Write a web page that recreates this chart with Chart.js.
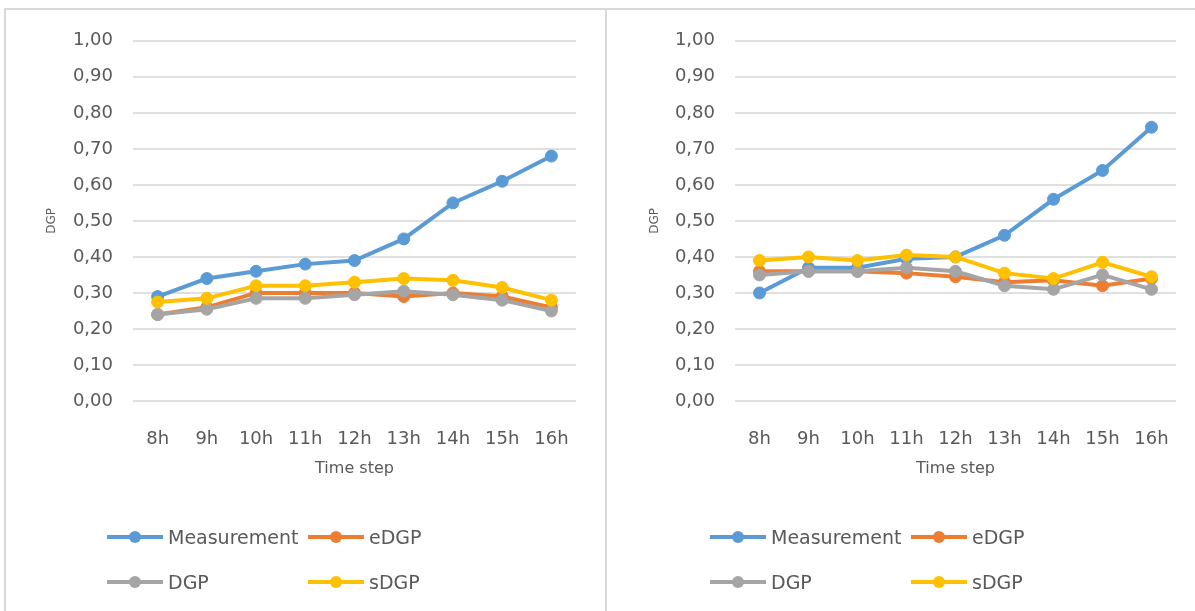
<!DOCTYPE html>
<html>
<head>
<meta charset="utf-8">
<script src="https://cdn.jsdelivr.net/npm/chart.js@4.4.1/dist/chart.umd.min.js"></script>
<style>
  body { margin: 0; background: #fff; width: 1195px; height: 611px; overflow: hidden; position: relative; font-family: 'DejaVu Sans', sans-serif; }
  .panel { position: absolute; border-top: 2px solid #d9d9d9; border-left: 2px solid #d9d9d9; box-sizing: border-box; }
  .panel canvas { position: absolute; left: 0; top: 0; }
  .legend { position: absolute; display: grid; grid-template-columns: 201px 201px; row-gap: 20px; }
  .legend .item { display: flex; align-items: center; height: 25px; font-size: 19px; color: #595959; }
  .legend .mark { position: relative; width: 56px; height: 4px; margin-right: 5px; }
  .legend .mark span { position: absolute; left: 22px; top: -4px; width: 12px; height: 12px; border-radius: 50%; }
</style>
</head>
<body>
<div class="panel" id="panelLeft" style="left:4px;top:8px;width:603px;height:603px;">
  <canvas id="chartLeft" width="599" height="601"></canvas>
</div>
<div class="panel" id="panelRight" style="left:605px;top:8px;width:590px;height:603px;">
  <canvas id="chartRight" width="588" height="601"></canvas>
</div>
<div class="legend" id="legendLeft" style="left:107px;top:524px;"></div>
<div class="legend" id="legendRight" style="left:710px;top:524px;"></div>

<script>
const timeSteps = ['8h', '9h', '10h', '11h', '12h', '13h', '14h', '15h', '16h'];
const seriesNames = ['Measurement', 'eDGP', 'DGP', 'sDGP'];
const seriesColors = ['#5b9bd5', '#ed7d31', '#a5a5a5', '#ffc000'];

// left chart
const measurementLeft = [0.29, 0.34, 0.36, 0.38, 0.39, 0.45, 0.55, 0.61, 0.68];
const eDgpLeft = [0.24, 0.26, 0.30, 0.30, 0.30, 0.29, 0.30, 0.29, 0.26];
const dgpLeft = [0.24, 0.255, 0.285, 0.285, 0.295, 0.305, 0.295, 0.28, 0.25];
const sDgpLeft = [0.275, 0.285, 0.32, 0.32, 0.33, 0.34, 0.335, 0.315, 0.28];

// right chart
const measurementRight = [0.30, 0.37, 0.37, 0.395, 0.40, 0.46, 0.56, 0.64, 0.76];
const eDgpRight = [0.36, 0.36, 0.36, 0.355, 0.345, 0.33, 0.335, 0.32, 0.34];
const dgpRight = [0.35, 0.36, 0.36, 0.37, 0.36, 0.32, 0.31, 0.35, 0.31];
const sDgpRight = [0.39, 0.40, 0.39, 0.405, 0.40, 0.355, 0.34, 0.385, 0.345];

const tickColor = '#595959';
const gridColor = '#e0e0e0';

function makeChart(canvasId, legendId, seriesData, axisWidth, pad) {
  const ctx = document.getElementById(canvasId).getContext('2d');
  const chart = new Chart(ctx, {
    type: 'line',
    data: {
      labels: timeSteps,
      datasets: seriesData.map(function (values, i) {
        return {
          label: seriesNames[i],
          data: values,
          borderColor: seriesColors[i],
          backgroundColor: seriesColors[i],
          borderWidth: 4,
          pointRadius: 6,
          pointBorderWidth: 1,
          pointBorderColor: seriesColors[i],
          pointBackgroundColor: seriesColors[i],
          tension: 0,
          order: seriesData.length - i,
        };
      }),
    },
    options: {
      responsive: false,
      animation: false,
      devicePixelRatio: 1,
      layout: {
        padding: { left: 0, right: pad.right, top: pad.top, bottom: 130 },
      },
      plugins: {
        legend: { display: false },
        tooltip: { enabled: false },
      },
      scales: {
        x: {
          offset: true,
          border: { display: false },
          grid: { display: false },
          ticks: {
            color: tickColor,
            padding: 20,
            maxRotation: 0,
            font: { family: 'DejaVu Sans', size: 18 },
          },
          title: {
            display: true,
            text: 'Time step',
            color: tickColor,
            padding: { top: 0, bottom: 3 },
            font: { family: 'DejaVu Sans', size: 16 },
          },
          afterFit: function (scale) {
            scale.height = 80;
          },
        },
        y: {
          min: 0,
          max: 1,
          border: { display: false },
          grid: { color: gridColor, lineWidth: 2, drawTicks: false },
          ticks: {
            stepSize: 0.1,
            color: tickColor,
            padding: 20,
            font: { family: 'DejaVu Sans', size: 18 },
            callback: function (value) {
              return value.toFixed(2).replace('.', ',');
            },
          },
          title: {
            display: true,
            text: 'DGP',
            color: tickColor,
            padding: { top: pad.title, bottom: 0 },
            font: { family: 'DejaVu Sans', size: 12 },
          },
          afterFit: function (scale) {
            scale.width = axisWidth;
          },
        },
      },
    },
  });

  // legend laid out in two columns like the original
  const legend = document.getElementById(legendId);
  const order = [0, 1, 2, 3];
  order.forEach(function (i) {
    const ds = chart.data.datasets[i];
    const item = document.createElement('div');
    item.className = 'item';
    item.innerHTML = '<div class="mark" style="background:' + ds.borderColor + '"><span style="background:' + ds.borderColor + '"></span></div>' + ds.label;
    legend.appendChild(item);
  });
  return chart;
}

makeChart('chartLeft', 'legendLeft', [measurementLeft, eDgpLeft, dgpLeft, sDgpLeft], 127, { right: 29, top: 28, title: 39 });
makeChart('chartRight', 'legendRight', [measurementRight, eDgpRight, dgpRight, sDgpRight], 128, { right: 19, top: 28, title: 41 });
</script>
</body>
</html>
